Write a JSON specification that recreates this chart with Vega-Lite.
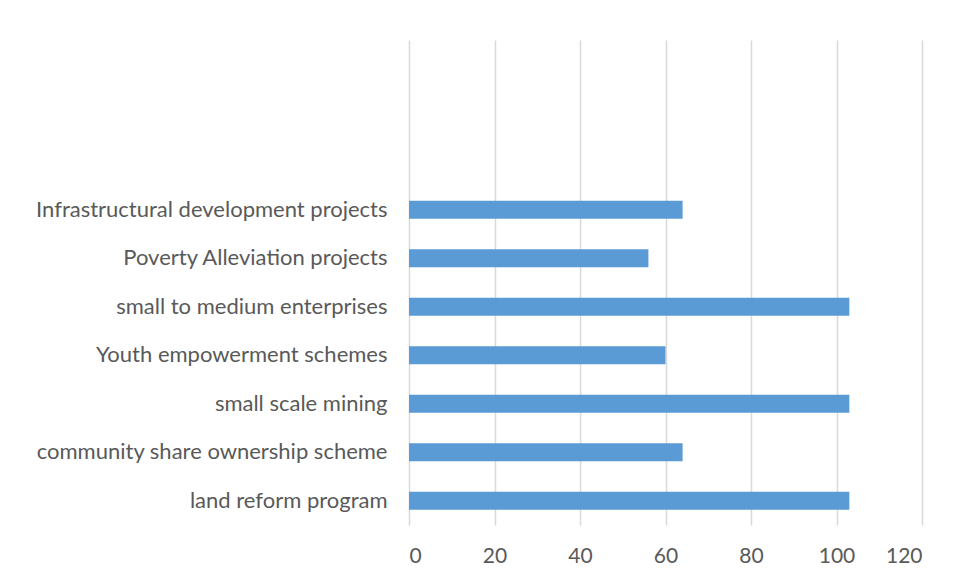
{
  "$schema": "https://vega.github.io/schema/vega-lite/v6.json",
  "width": 513,
  "height": 485,
  "autosize": {"type": "none"},
  "padding": {"left": 409, "top": 40, "right": 38, "bottom": 54},
  "background": "white",
  "data": {"values": [
    {"category": "land reform program", "value": 103},
    {"category": "community share ownership scheme", "value": 64},
    {"category": "small scale mining", "value": 103},
    {"category": "Youth empowerment schemes", "value": 60},
    {"category": "small to medium enterprises", "value": 103},
    {"category": "Poverty Alleviation projects", "value": 56},
    {"category": "Infrastructural development projects", "value": 64}
  ]},
  "mark": {"type": "bar", "color": "#5b9bd5"},
  "encoding": {
    "y": {
      "field": "category", "type": "nominal",
      "scale": {
        "domain": [" ", "  ", "   ", "Infrastructural development projects", "Poverty Alleviation projects", "small to medium enterprises", "Youth empowerment schemes", "small scale mining", "community share ownership scheme", "land reform program"],
        "paddingInner": 0.63, "paddingOuter": 0.315
      },
      "axis": {"title": null, "domain": false, "ticks": false, "grid": false, "labelFont": "Lato", "labelFontSize": 22, "labelColor": "#595959", "labelPadding": 22, "labelLimit": 450}
    },
    "x": {
      "field": "value", "type": "quantitative",
      "scale": {"domain": [0, 120], "nice": false},
      "axis": {"title": null, "values": [0, 20, 40, 60, 80, 100, 120], "domain": false, "ticks": false, "grid": true, "gridColor": "#d9d9d9", "gridWidth": 1.5, "labelFont": "Lato", "labelFontSize": 21, "labelColor": "#595959", "labelPadding": 20}
    }
  },
  "config": {"view": {"stroke": null}}
}
